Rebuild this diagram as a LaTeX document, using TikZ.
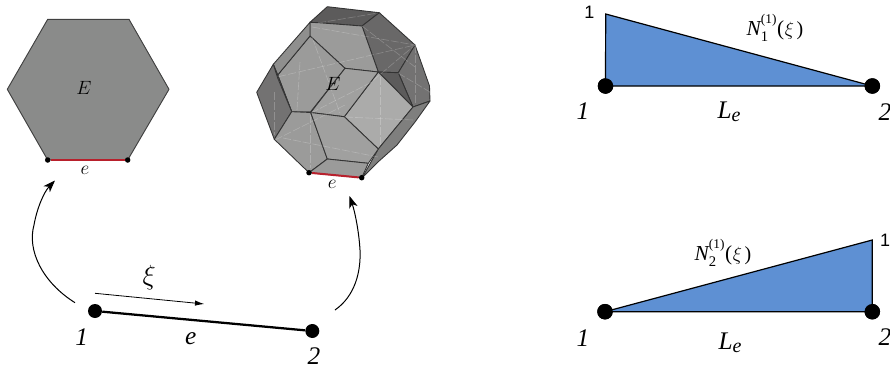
\documentclass[tikz,border=0pt]{standalone}
\usepackage{fontspec}
\setmainfont{Liberation Serif}
\newfontfamily\arialf{Liberation Sans}
\usetikzlibrary{arrows.meta}
\definecolor{hexgray}{HTML}{8A8B8A}
\definecolor{femblue}{HTML}{5E90D3}
\definecolor{edgered}{HTML}{B8202C}
\definecolor{fA}{HTML}{5C5B5B}
\definecolor{fB}{HTML}{696868}
\definecolor{fC}{HTML}{737272}
\definecolor{fD}{HTML}{9B9B9A}
\definecolor{fE}{HTML}{A0A09F}
\definecolor{fF}{HTML}{ABABAA}
\definecolor{fG}{HTML}{8F8F8E}
\definecolor{fH}{HTML}{7F7F7E}
\newcommand{\shapefn}[1]{N\rlap{\raisebox{-5pt}{\fontsize{11pt}{12pt}\selectfont\upshape #1}}\raisebox{9pt}{\fontsize{10pt}{12pt}\selectfont\upshape (1)}\kern0.5pt{\upshape (}\kern0.5pt\fontsize{15pt}{16pt}\selectfont$\xi$\kern2pt{\upshape )}}
\tikzset{
  bigdot/.style={circle,fill=black,inner sep=0pt,minimum size=15.5pt*0.75},
  meddot/.style={circle,fill=black,inner sep=0pt,minimum size=14pt*0.75},
  smalldot/.style={circle,fill=black,inner sep=0pt,minimum size=5.5pt*0.75},
  lab/.style={inner sep=0pt,font=\fontsize{19pt}{20pt}\selectfont\itshape},
  smalllab/.style={inner sep=0pt,font=\fontsize{14pt}{15pt}\selectfont},
  onelab/.style={inner sep=0pt,font=\fontsize{13.5pt}{14pt}\selectfont\arialf},
  nlab/.style={inner sep=0pt,font=\fontsize{16pt}{17pt}\selectfont\itshape},
  face/.style={draw=black!80,line width=0.65pt,line join=round},
  ghost/.style={draw=white,opacity=0.22,line width=0.45pt,dashed,dash pattern=on 6pt off 1.5pt},
  tri/.style={fill=femblue,draw=black,line width=0.9pt,line join=miter},
  curved/.style={draw=black,line width=0.75pt,-{Stealth[length=9pt,width=6.5pt,inset=2.5pt]}},
}
\begin{document}
\begin{tikzpicture}[x=0.75pt,y=-0.75pt]
\useasboundingbox (0,0) rectangle (890,368);
% hexagon
\fill[hexgray,draw=black!75,line width=0.7pt,line join=round] (47.7,19.3)--(129,19.3)--(169,89.3)--(127.7,160)--(47.7,160)--(7.3,89.3)--cycle;
\node[smalldot] (h1) at (47.7,160) {};
\node[smalldot] (h2) at (127.7,160) {};
\draw[edgered,line width=1.5pt] (h1)--(h2);
\node[smalllab] (hE) at (84,88) {$E$};
\node[smalllab] (he) at (85,170.5) {$e$};
% polyhedron
\path[face,fill=fA] (327.3,6.7)--(379.3,12.7)--(362,26)--(318.3,22.7)--(310,22.3)--cycle;
\path[face,fill=fB] (379.3,12.7)--(415,45)--(398.3,72.7)--(378.3,72)--(362,26)--cycle;
\path[face,fill=fC] (415,45)--(429.5,86)--(430,101)--(413,107)--(398.3,72.7)--cycle;
\path[face,fill=fA] (378.3,72)--(398.3,72.7)--(413,107)--cycle;
\path[face,fill=fF] (378.3,72)--(413,107)--(378.3,149)--(344.3,116.7)--cycle;
\path[face,fill=fH] (413,107)--(430,101)--(415,122)--(397,145)--(378,162)--(362,178)--(378.3,149)--cycle;
\path[face,fill=fD] (310,22.3)--(318.3,22.7)--(362,26)--(378.3,72)--(345,68.3)--(310,36)--cycle;
\path[face,fill=fD] (310,36)--(345,68.3)--(310.7,111.7)--(291.7,111.7)--(277.7,75)--cycle;
\path[face,fill=fE] (345,68.3)--(378.3,72)--(344.3,116.7)--(310.7,112.5)--cycle;
\path[face,fill=fG] (310,22.3)--(310,36)--(277.7,75)--(273.3,64.3)--cycle;
\path[face,fill=fG] (273.3,64.3)--(277.7,75)--(291.7,111.7)--cycle;
\path[face,fill=fC] (256.7,92.3)--(273.3,64.3)--(277.7,78)--(291.7,111.7)--(274.3,139.3)--cycle;
\path[face,fill=fD] (291.7,111.7)--(310.7,112.5)--(327.3,159)--(309,172.7)--(274.3,139.3)--cycle;
\path[face,fill=fE] (310.7,112.5)--(344.3,116.7)--(378.3,149)--(368.3,163.3)--(327.3,159)--cycle;
\path[face,fill=fD] (327.3,159)--(368.3,163.3)--(361.7,177.7)--(309,172.7)--cycle;
% see-through lines
\draw[ghost] (278.3,76.7)--(415,45);
\draw[ghost] (312,27)--(415,45);
\draw[ghost] (310,115)--(310,168);
\draw[ghost] (283,138)--(378,157);
\draw[ghost] (312,37)--(340,113);
\draw[ghost] (311,113)--(370,83)--(415,45);
\draw[ghost] (380,77)--(380,147);
\draw[ghost] (345,117)--(413,120);
\draw[ghost] (362,26)--(415,67);
\draw[ghost] (274,92)--(274,135);
\draw[ghost] (300,62)--(297,110);
\draw[ghost] (318,23)--(378,13);
\draw[ghost] (398,73)--(430,92);
\draw[ghost] (415,45)--(415,105);
\draw[ghost] (275,140)--(345,105);
\node[smalldot] (p1) at (309,172.7) {};
\node[smalldot] (p2) at (361.7,177.7) {};
\draw[edgered,line width=1.5pt] (p1)--(p2);
\node[smalllab] (pE) at (333,84) {$E$};
\node[smalllab] (pe) at (332.3,184.5) {$e$};
% line element
\node[meddot] (n1) at (95,311) {};
\node[meddot] (n2) at (312.3,331) {};
\draw[black,line width=1.7pt] (n1)--(n2);
\node[lab] (l1) at (81.7,337) {1};
\node[lab] (le) at (190.7,339) {e};
\node[lab] (l2) at (314,355.7) {2};
\coordinate (xia) at (95,293.3);
\coordinate (xib) at (204.3,304);
\draw[line width=0.6pt,-{Latex[length=7pt,width=4pt]}] (xia)--(xib);
\node[inner sep=0pt,font=\fontsize{20pt}{22pt}\selectfont] (xi) at (149.3,278) {$\xi$};
% mapping arrows
\coordinate (a1) at (75,302.7);
\coordinate (a2) at (55,180.5);
\coordinate (b1) at (335,310);
\coordinate (b2) at (349.5,196);
\draw[curved] (a1) .. controls (42,282) and (27,250) .. (34,225) .. controls (37,208) and (44,192) .. (a2);
\draw[curved] (b1) .. controls (355,296) and (361,272) .. (360,250) .. controls (359,232) and (355,212) .. (b2);
% top shape function
\coordinate (t0) at (605.7,14);
\node[bigdot] (t1) at (605.5,86) {};
\node[bigdot] (t2) at (872.3,86) {};
\path[tri] (t0)--(t2.center)--(t1.center)--cycle;
\node[bigdot] at (t1) {};
\node[bigdot] at (t2) {};
\node[onelab] (t1v) at (589.5,12) {1};
\node[nlab] (tN) at (775,28) {\shapefn{1}};
\node[lab] (tL) at (729,112) {L\raisebox{-2.5pt}{\fontsize{15pt}{16pt}\selectfont e}};
\node[lab] (tl1) at (583,111) {1};
\node[lab] (tl2) at (885,112) {2};
% bottom shape function
\coordinate (u0) at (872.3,240);
\node[bigdot] (u1) at (605,311.7) {};
\node[bigdot] (u2) at (872.3,311.7) {};
\path[tri] (u0)--(u2.center)--(u1.center)--cycle;
\node[bigdot] at (u1) {};
\node[bigdot] at (u2) {};
\node[onelab] (u1v) at (885,240) {1};
\node[nlab] (uN) at (723,253) {\shapefn{2}};
\node[lab] (uL) at (730,343) {L\raisebox{-2.5pt}{\fontsize{15pt}{16pt}\selectfont e}};
\node[lab] (ul1) at (583,338) {1};
\node[lab] (ul2) at (885,337) {2};
\end{tikzpicture}
\end{document}
